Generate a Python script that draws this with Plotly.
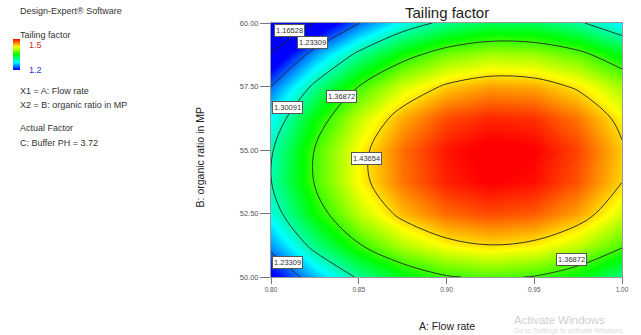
import plotly.graph_objects as go

# ---- data ----
flow_rate = [0.800, 0.825, 0.850, 0.875, 0.900, 0.925, 0.950, 0.975, 1.000]
organic_ratio = [50.00, 51.25, 52.50, 53.75, 55.00, 56.25, 57.50, 58.75, 60.00]

tf_b50_00 = [1.190, 1.255, 1.306, 1.343, 1.366, 1.374, 1.367, 1.347, 1.312]
tf_b51_25 = [1.246, 1.313, 1.366, 1.404, 1.427, 1.436, 1.430, 1.409, 1.374]
tf_b52_50 = [1.283, 1.352, 1.406, 1.445, 1.469, 1.478, 1.473, 1.452, 1.413]
tf_b53_75 = [1.300, 1.371, 1.426, 1.466, 1.491, 1.501, 1.496, 1.475, 1.437]
tf_b55_00 = [1.297, 1.370, 1.426, 1.468, 1.494, 1.505, 1.501, 1.480, 1.441]
tf_b56_25 = [1.275, 1.349, 1.407, 1.450, 1.478, 1.489, 1.486, 1.465, 1.427]
tf_b57_50 = [1.233, 1.309, 1.369, 1.413, 1.441, 1.454, 1.451, 1.432, 1.398]
tf_b58_75 = [1.171, 1.249, 1.310, 1.356, 1.386, 1.400, 1.397, 1.379, 1.345]
tf_b60_00 = [1.089, 1.169, 1.232, 1.280, 1.311, 1.326, 1.324, 1.306, 1.272]

contour_levels = [1.16528, 1.23309, 1.30091, 1.36872, 1.43654]
x_ticks = [0.80, 0.85, 0.90, 0.95, 1.00]
y_ticks = [50.00, 52.50, 55.00, 57.50, 60.00]
scale_min, scale_max = 1.2, 1.5

tailing = [tf_b50_00, tf_b51_25, tf_b52_50, tf_b53_75, tf_b55_00,
           tf_b56_25, tf_b57_50, tf_b58_75, tf_b60_00]

# ---- figure ----
W, H = 641, 335
L, R, T, B = 271, 12, 23, 58
PW, PH = W - L - R, H - T - B

def px(x):
    return (x - L) / PW

def py(y):
    return (H - B - y) / PH

rainbow = [[0.0, 'rgb(0,0,255)'], [0.25, 'rgb(0,255,255)'], [0.5, 'rgb(0,255,0)'],
           [0.75, 'rgb(255,255,0)'], [1.0, 'rgb(255,0,0)']]

step = (contour_levels[-1] - contour_levels[0]) / (len(contour_levels) - 1)

fig = go.Figure()
fig.add_trace(go.Heatmap(
    x=flow_rate, y=organic_ratio, z=tailing, zsmooth='best',
    colorscale=rainbow, zmin=scale_min, zmax=scale_max, hoverinfo='skip',
    colorbar=dict(xref='container', yref='container', x=13 / W, xanchor='left',
                  y=1 - 52 / H, yanchor='top', len=31, lenmode='pixels',
                  thickness=7, thicknessmode='pixels', outlinewidth=0,
                  showticklabels=False, ticks='', xpad=0, ypad=0),
))
fig.add_trace(go.Contour(
    x=flow_rate, y=organic_ratio, z=tailing, showscale=False, hoverinfo='skip',
    contours=dict(start=contour_levels[0], end=contour_levels[-1] + step * 0.01,
                  size=step, coloring='none', showlabels=False),
    line=dict(color='rgba(35,35,35,0.9)', width=1, smoothing=1),
))

font_main = 'Arial, Liberation Sans, sans-serif'
ann = []

def label(x, y, text, size=9, color='#333', xanchor='left', **kw):
    ann.append(dict(x=px(x), y=py(y), xref='paper', yref='paper', text=text,
                    showarrow=False, xanchor=xanchor, yanchor='middle',
                    font=dict(family=font_main, size=size, color=color), **kw))

label(13, 10.5, 'Design-Expert® Software')
label(13, 35, 'Tailing factor')
label(22, 45, '1.5', color='#d03030')
label(22, 70, '1.2', color='#3030d0')
label(13, 90.5, 'X1 = A: Flow rate')
label(13, 105, 'X2 = B: organic ratio in MP')
label(13, 128, 'Actual Factor')
label(13, 142.5, 'C: Buffer PH = 3.72')

label(450, 12, 'Tailing factor', size=15, color='#222', xanchor='center')
label(450, 326, 'A: Flow rate', size=10.5, color='#222', xanchor='center')
label(199, 157, 'B: organic ratio in MP', size=10.5, color='#222', xanchor='center', textangle=-90)

label(517, 320, 'Activate Windows', size=11.5, color='#cfcfcf')
label(517, 330.5, 'Go to Settings to activate Windows.', size=7, color='#dcdcdc')

# contour value labels (boxed), positioned where the reference puts them
for (lx, ly, lev) in [(289.5, 30.5, 0), (313, 43, 1), (288, 107.5, 2), (342.5, 96.5, 3),
                      (368, 158, 4), (288, 262.5, 1), (577.5, 259.5, 3)]:
    label(lx, ly, f'{contour_levels[lev]:.5f}', size=7.5, color='#333', xanchor='center',
          bgcolor='white', bordercolor='#555', borderwidth=1, borderpad=1)

fig.update_layout(
    width=W, height=H, autosize=False,
    margin=dict(l=L, r=R, t=T, b=B, pad=0),
    paper_bgcolor='white', plot_bgcolor='white',
    showlegend=False, annotations=ann,
    font=dict(family=font_main),
    xaxis=dict(range=[flow_rate[0], flow_rate[-1]], tickvals=x_ticks, tickformat='.2f',
               showgrid=False, zeroline=False, ticks='outside', ticklen=6, tickcolor='#777',
               showline=True, linecolor='#999', linewidth=1, mirror=True,
               tickfont=dict(size=6.5, color='#555')),
    yaxis=dict(range=[organic_ratio[0], organic_ratio[-1]], tickvals=y_ticks, tickformat='.2f',
               showgrid=False, zeroline=False, ticks='outside', ticklen=10, tickcolor='#777',
               showline=True, linecolor='#999', linewidth=1, mirror=True,
               tickfont=dict(size=7.5, color='#555')),
)

fig.write_html('out.html')
